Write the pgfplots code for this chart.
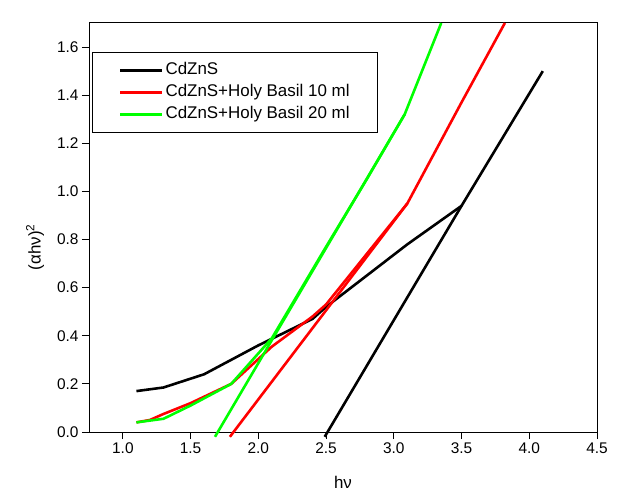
\documentclass[border=0pt]{standalone}
\usepackage{fontspec}
\setmainfont{Liberation Sans}
\usepackage{pgfplots}
\pgfplotsset{compat=1.18}
\definecolor{cgreen}{RGB}{0,255,0}
\definecolor{cred}{RGB}{255,0,0}
\begin{document}
\begin{tikzpicture}
\begin{axis}[name=ax, scale only axis, width=508bp, height=409bp,
  xmin=0.75, xmax=4.5, ymin=0, ymax=1.7,
  xtick={1,1.5,2,2.5,3,3.5,4,4.5},
  ytick={0,0.2,0.4,0.6,0.8,1.0,1.2,1.4,1.6},
  tick align=outside, tick pos=left, major tick length=7bp,
  axis line style={line width=1pt}, tick style={line width=1pt, black},
  /pgf/number format/assume math mode=true,
  xticklabel style={/pgf/number format/.cd, fixed, fixed zerofill, precision=1},
  yticklabel style={/pgf/number format/.cd, fixed, fixed zerofill, precision=1},
  tick label style={font=\fontsize{15.5}{18}\selectfont},
  xlabel={hν}, ylabel={(αhν)\textsuperscript{2}},
  every axis x label/.style={font=\fontsize{17}{20}\selectfont, at={(axis description cs:0.5,-0.122)}, anchor=center},
  every axis y label/.style={font=\fontsize{17}{20}\selectfont, at={(axis description cs:-0.106,0.452)}, rotate=90, anchor=center},
  clip=false,
  legend cell align=left,
  legend style={at={(axis description cs:0.006,0.929)}, anchor=north west,
    draw=black, line width=1pt, inner xsep=26bp, inner ysep=8bp,
    font=\fontsize{17}{20}\selectfont, row sep=2bp,
    nodes={inner sep=2bp, text height=12bp, text depth=4bp}},
  legend image code/.code={\draw[#1, line width=3pt] (0bp,0bp) -- (42bp,0bp);},
  every axis plot/.append style={line width=2.6pt, line join=round}
]
\addplot[black] coordinates {(1.1,0.17) (1.3,0.185) (1.6,0.24) (1.8,0.30) (2.0,0.36) (2.2,0.415) (2.4,0.47) (2.5,0.52) (2.8,0.65) (3.1,0.78) (3.5,0.94) (4.1,1.5)};
\addlegendentry{CdZnS}
\addplot[cred] coordinates {(1.1,0.04) (1.2,0.05) (1.3,0.075) (1.5,0.12) (1.8,0.20) (2.1,0.355) (2.4,0.48) (2.5,0.53) (2.8,0.74) (3.1,0.95) (3.5,1.37) (3.82,1.7)};
\addlegendentry{CdZnS+Holy Basil 10 ml}
\addplot[cgreen] coordinates {(1.1,0.04) (1.3,0.055) (1.5,0.11) (1.8,0.20) (2.1,0.39) (2.5,0.77) (2.8,1.05) (3.08,1.32) (3.35,1.7)};
\addlegendentry{CdZnS+Holy Basil 20 ml}
\addplot[black, forget plot] coordinates {(2.49,-0.02) (3.5,0.94)};
\addplot[cred, forget plot] coordinates {(1.79,-0.02) (3.1,0.95)};
\addplot[cgreen, forget plot] coordinates {(1.68,-0.02) (3.08,1.32)};
\end{axis}
\pgfresetboundingbox
\path ([shift={(-89bp,-63bp)}]ax.south west) rectangle ([shift={(44bp,23bp)}]ax.north east);
\end{tikzpicture}
\end{document}
